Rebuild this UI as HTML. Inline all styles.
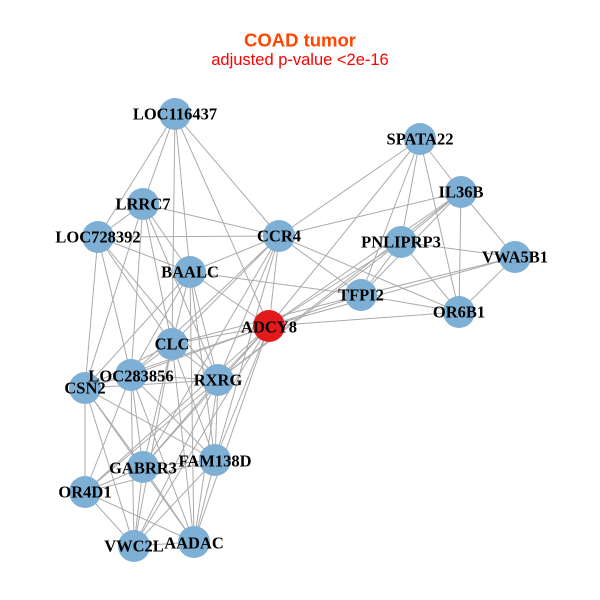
<!DOCTYPE html>
<html><head><meta charset="utf-8"><style>
html,body{margin:0;padding:0;background:#fff;width:600px;height:600px;overflow:hidden}
svg text{font-family:"Liberation Serif",serif;font-weight:bold;font-size:16.5px;fill:#000;text-anchor:middle;dominant-baseline:central}
</style></head><body>
<svg id="s" width="600" height="600" viewBox="0 0 600 600" xmlns="http://www.w3.org/2000/svg">
<text x="300" y="40" style="font-family:'Liberation Sans',sans-serif;font-size:18.5px;fill:#ff4500">COAD tumor</text>
<text x="300" y="60" style="font-family:'Liberation Sans',sans-serif;font-weight:normal;font-size:16.5px;fill:#ff0000">adjusted p-value &lt;2e-16</text>
<g id="edges" stroke="#aaaaaa" stroke-width="1"></g>
<g id="nodes"></g>
<g id="labels">
<text x="175" y="114">LOC116437</text>
<text x="143" y="204">LRRC7</text>
<text x="98" y="237">LOC728392</text>
<text x="279" y="236">CCR4</text>
<text x="190" y="272">BAALC</text>
<text x="269" y="327">ADCY8</text>
<text x="172" y="344">CLC</text>
<text x="131" y="376">LOC283856</text>
<text x="218" y="380">RXRG</text>
<text x="85" y="388">CSN2</text>
<text x="143" y="468">GABRR3</text>
<text x="215" y="461">FAM138D</text>
<text x="85" y="492">OR4D1</text>
<text x="134" y="546">VWC2L</text>
<text x="194" y="543">AADAC</text>
<text x="420" y="139">SPATA22</text>
<text x="461" y="192">IL36B</text>
<text x="401" y="242">PNLIPRP3</text>
<text x="515" y="257">VWA5B1</text>
<text x="361" y="295">TFPI2</text>
<text x="459" y="312">OR6B1</text>
</g>
</svg>
<script>
var P={LOC116437:[175,114],LRRC7:[143,204],LOC728392:[98,237],CCR4:[279,236],BAALC:[190,272],ADCY8:[269,326],CLC:[172,344],LOC283856:[131,375],RXRG:[218,380],CSN2:[85,388],GABRR3:[143,467],FAM138D:[215,460],OR4D1:[85,492],VWC2L:[134,546],AADAC:[194,542],SPATA22:[420,139],IL36B:[461,192],PNLIPRP3:[401,242],VWA5B1:[515,257],TFPI2:[361,295],OR6B1:[459,312]};
var E={
LOC116437:"LRRC7 LOC728392 BAALC CLC CCR4 ADCY8",
LRRC7:"LOC728392 CCR4 BAALC CLC RXRG LOC283856 CSN2",
LOC728392:"CCR4 BAALC CLC RXRG CSN2 LOC283856",
CCR4:"SPATA22 IL36B TFPI2 OR6B1 BAALC CLC ADCY8 RXRG LOC283856 FAM138D GABRR3",
BAALC:"TFPI2 ADCY8 CLC LOC283856 RXRG FAM138D CSN2 AADAC",
ADCY8:"SPATA22 PNLIPRP3 IL36B TFPI2 OR6B1 VWA5B1 CLC LOC283856 RXRG FAM138D GABRR3 VWC2L AADAC OR4D1 CSN2",
SPATA22:"IL36B PNLIPRP3 TFPI2 OR6B1",
IL36B:"VWA5B1 OR6B1 PNLIPRP3 TFPI2 RXRG",
PNLIPRP3:"VWA5B1 OR6B1 TFPI2 RXRG",
VWA5B1:"OR6B1 TFPI2",
TFPI2:"OR6B1 CLC",
CLC:"LOC283856 RXRG CSN2 GABRR3 FAM138D AADAC VWC2L",
LOC283856:"RXRG CSN2 GABRR3 FAM138D VWC2L AADAC OR4D1",
RXRG:"CSN2 GABRR3 FAM138D OR4D1 VWC2L AADAC",
CSN2:"OR4D1 GABRR3 FAM138D VWC2L AADAC",
GABRR3:"OR4D1 FAM138D VWC2L AADAC",
FAM138D:"OR4D1 VWC2L AADAC",
OR4D1:"VWC2L AADAC",
VWC2L:"AADAC"};
var ns="http://www.w3.org/2000/svg",eg=document.getElementById("edges"),ng=document.getElementById("nodes");
for(var a in E){E[a].split(" ").forEach(function(b){var l=document.createElementNS(ns,"line");l.setAttribute("x1",P[a][0]);l.setAttribute("y1",P[a][1]);l.setAttribute("x2",P[b][0]);l.setAttribute("y2",P[b][1]);eg.appendChild(l);});}
for(var k in P){var c=document.createElementNS(ns,"circle");c.setAttribute("cx",P[k][0]);c.setAttribute("cy",P[k][1]);c.setAttribute("r",16);c.setAttribute("fill",k=="ADCY8"?"#e31a1c":"#7eb0d5");ng.appendChild(c);}
</script>
</body></html>
